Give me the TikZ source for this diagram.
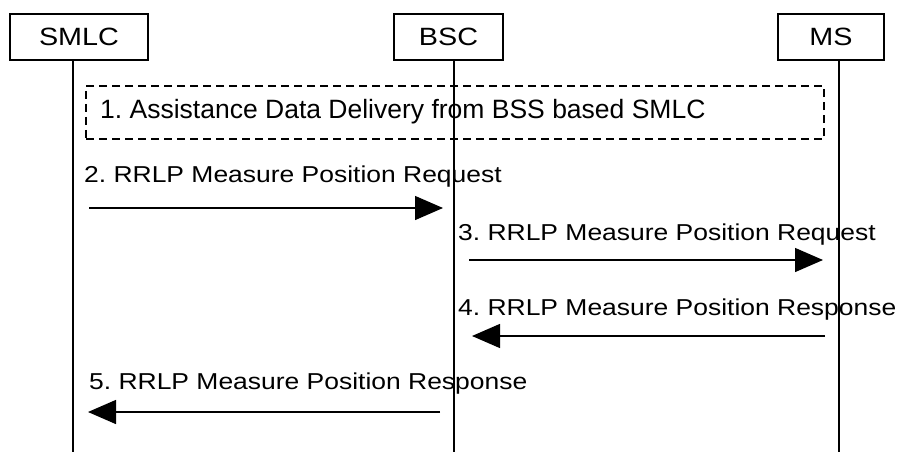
\documentclass[tikz,border=0pt]{standalone}
\usepackage{fontspec}
\setmainfont{Liberation Sans}
\newfontfamily\widesans[FakeStretch=1.15]{Liberation Sans}
\usetikzlibrary{arrows.meta,positioning}

\begin{document}
\frenchspacing
\begin{tikzpicture}[x=1pt,y=-1pt,
  entity/.style={draw,line width=1.2pt,minimum height=46pt,inner sep=0pt,
    font=\widesans\fontsize{25}{29}\selectfont},
  msg/.style={line width=1.4pt,-{Triangle[length=28pt,width=24pt]}},
  lbl/.style={anchor=west,inner sep=0pt,font=\widesans\fontsize{23}{27}\selectfont}]
  \useasboundingbox (0,0) rectangle (899,452);

  \node[entity,minimum width=138pt] (smlc) at (79,37) {SMLC};
  \node[entity,minimum width=109pt] (bsc) at (448.5,37) {BSC};
  \node[entity,minimum width=106pt] (ms) at (831,37) {MS};

  % dashed procedure box
  \node[draw,dashed,dash pattern=on 8pt off 5pt,line width=1.2pt,
    minimum width=738pt,minimum height=53pt,inner sep=0pt] (ada) at (455,112.5) {};
  \node[lbl,font=\fontsize{26.5}{30}\selectfont] (ada text) at (100,112)
    {1. Assistance Data Delivery from BSS based SMLC};

  % lifelines
  \coordinate (smlc end) at (73,452);
  \coordinate (bsc end) at (454,452);
  \coordinate (ms end) at (839,452);
  \draw[line width=1.4pt] (smlc.south -| smlc end) -- (smlc end);
  \draw[line width=1.4pt] (bsc.south -| bsc end) -- (bsc end);
  \draw[line width=1.4pt] (ms.south -| ms end) -- (ms end);

  \coordinate (m2a) at (89,208);  \coordinate (m2b) at (443,208);
  \coordinate (m3a) at (469,260); \coordinate (m3b) at (823,260);
  \coordinate (m4a) at (825,336); \coordinate (m4b) at (472,336);
  \coordinate (m5a) at (440,412); \coordinate (m5b) at (88,412);

  \draw[msg] (m2a) -- (m2b);
  \draw[msg] (m3a) -- (m3b);
  \draw[msg] (m4a) -- (m4b);
  \draw[msg] (m5a) -- (m5b);

  \node[lbl] (l2) at (84,177) {2. RRLP Measure Position Request};
  \node[lbl] (l3) at (458,235) {3. RRLP Measure Position Request};
  \node[lbl] (l4) at (458,310) {4. RRLP Measure Position Response};
  \node[lbl] (l5) at (89,384) {5. RRLP Measure Position Response};
\end{tikzpicture}
\end{document}
